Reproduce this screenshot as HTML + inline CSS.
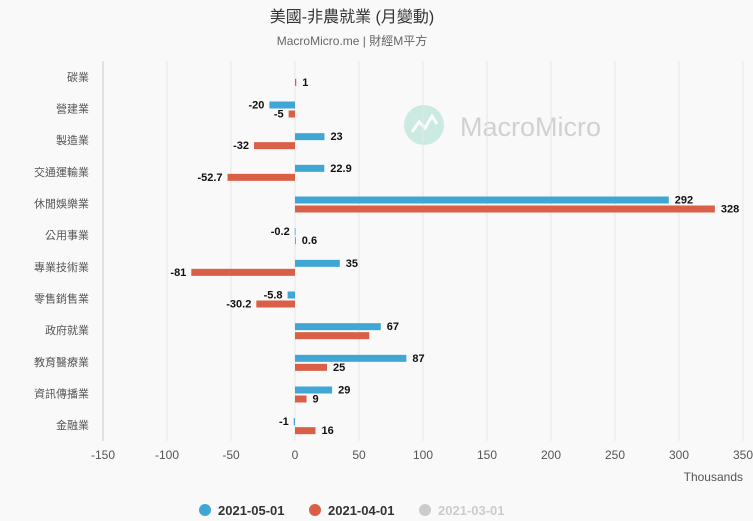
<!DOCTYPE html>
<html><head><meta charset="utf-8"><style>
body{margin:0;background:#f9f9f9;}
svg{display:block;font-family:"Liberation Sans","Noto Sans CJK TC",sans-serif;}
</style></head><body>
<svg id="c" width="753" height="521">
<rect width="753" height="521" fill="#f9f9f9"/>
<text x="352" y="22" text-anchor="middle" font-size="16" fill="#333">美國-非農就業 (月變動)</text>
<text x="352" y="45" text-anchor="middle" font-size="12" fill="#666">MacroMicro.me | 財經M平方</text>
<g opacity="0.5">
<circle cx="424" cy="125" r="20" fill="#9fdccd"/>
<polyline points="412,132 419,122 425,128 432,116 437,124" fill="none" stroke="#fff" stroke-width="3"/>
<text x="460" y="136" font-size="27" fill="#aaa">MacroMicro</text>
</g>
<g id="grid"></g><g id="bars"></g><g id="labels"></g>
<text x="743" y="481" text-anchor="end" font-size="12" fill="#555">Thousands</text>
<g>
<g><circle cx="205" cy="510" r="6" fill="#40a6d4"/><text x="218" y="515" font-size="13" font-weight="bold" fill="#333">2021-05-01</text></g>
<g><circle cx="315" cy="510" r="6" fill="#d95f47"/><text x="328" y="515" font-size="13" font-weight="bold" fill="#333">2021-04-01</text></g>
<g><circle cx="425" cy="510" r="6" fill="#ccc"/><text x="438" y="515" font-size="13" font-weight="bold" fill="#ccc">2021-03-01</text></g>
</g>
</svg>
<script>
const categories=["碳業","營建業","製造業","交通運輸業","休閒娛樂業","公用事業","專業技術業","零售銷售業","政府就業","教育醫療業","資訊傳播業","金融業"];
const may=[null,-20,23,22.9,292,-0.2,35,-5.8,67,87,29,-1];
const apr=[1,-5,-32,-52.7,328,0.6,-81,-30.2,58,25,9,16];
const aprShowLabel=[true,true,true,true,true,true,true,true,false,true,true,true];
const ticks=[-150,-100,-50,0,50,100,150,200,250,300,350];
const NS="http://www.w3.org/2000/svg";
const x0=103,x1=743,vmin=-150,vmax=350,plotTop=61,plotBottom=441;
const xs=v=>x0+(v-vmin)/(vmax-vmin)*(x1-x0);
const band=(plotBottom-plotTop)/categories.length;
const yc=i=>plotTop+band*(i+0.5);
function mk(tag,attrs,parent){const e=document.createElementNS(NS,tag);for(const k in attrs)e.setAttribute(k,attrs[k]);parent.appendChild(e);return e;}
const grid=document.getElementById('grid'),bars=document.getElementById('bars'),labels=document.getElementById('labels');
ticks.forEach((t,i)=>{
 const l=mk('line',{x1:xs(t),x2:xs(t),y1:plotTop,y2:plotBottom,stroke:i==0?'#ccc':'#e6e6e6','stroke-width':1},grid);
 
 
 const tx=mk('text',{x:xs(t),y:459,'text-anchor':'middle','font-size':12,fill:'#555'},grid);
 tx.textContent=t;
 
 
});
categories.forEach((c,i)=>{
 const t=mk('text',{x:89,y:yc(i)+4,'text-anchor':'end','font-size':11,fill:'#555'},grid);
 t.textContent=c;
 
 
});
function series(vals,off,color,name,show){
 vals.forEach((v,i)=>{
  if(v===null)return;
  const y=yc(i)+off;
  const a=xs(Math.min(0,v)),b=xs(Math.max(0,v));
  const r=mk('rect',{x:a,y:y,width:Math.max(b-a,0.8),height:7,fill:color},bars);
  
  
  if(show&&!show[i])return;
  const neg=v<0;
  const t=mk('text',{x:neg?a-5:b+6,y:y+7,'text-anchor':neg?'end':'start','font-size':11,'font-weight':'bold',fill:'#111'},labels);
  t.textContent=v;
  
  
 });
}
series(may,-7,'#40a6d4','may',null);
series(apr,2,'#d95f47','apr',aprShowLabel);
</script>
</body></html>
